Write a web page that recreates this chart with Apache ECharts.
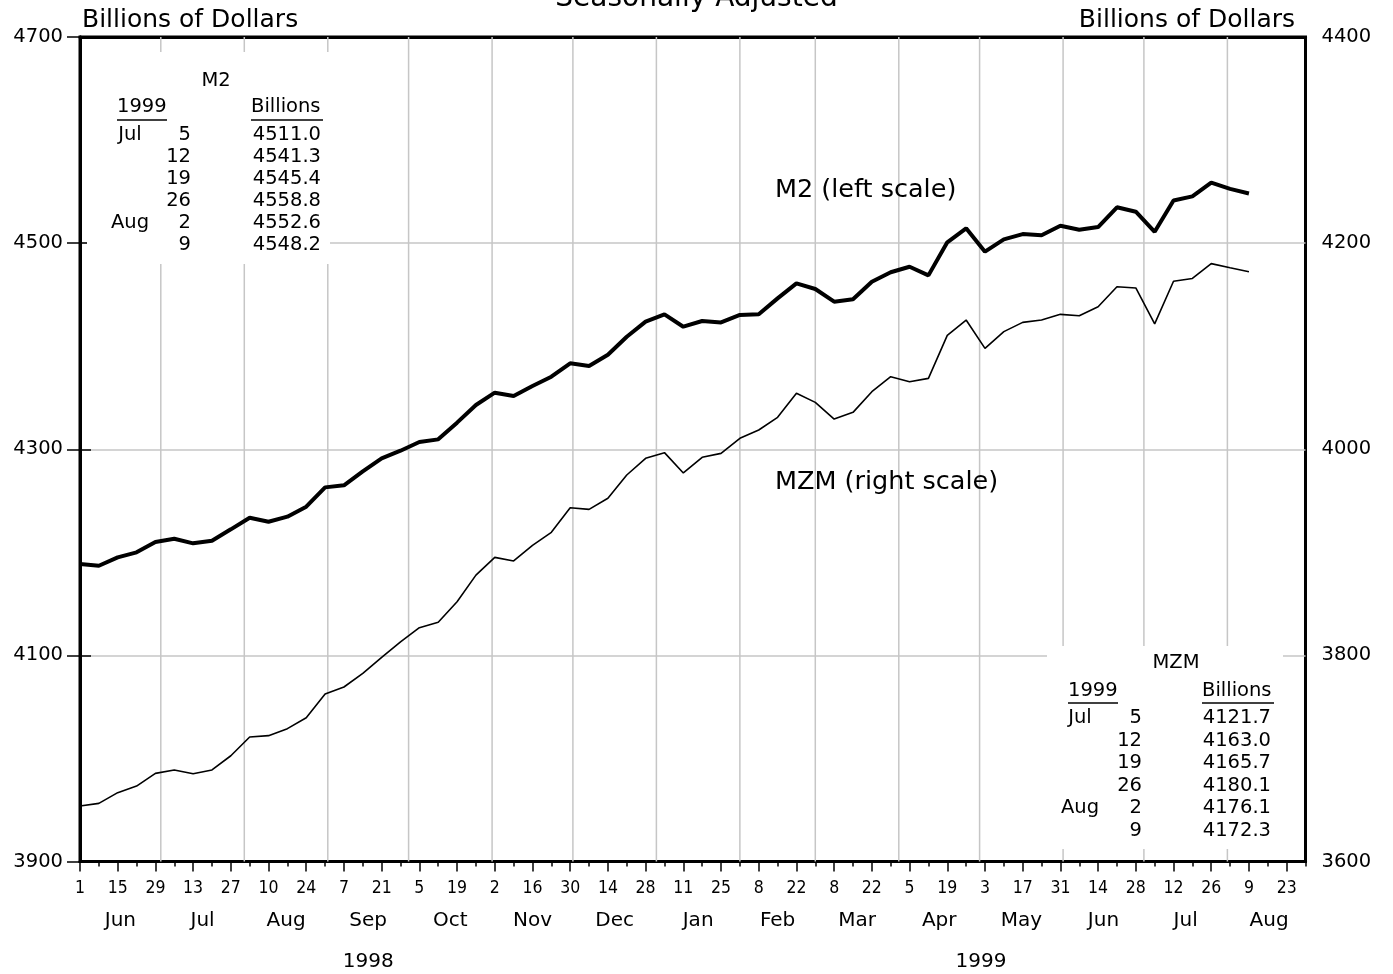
<!DOCTYPE html>
<html><head><meta charset="utf-8">
<script src="https://cdn.jsdelivr.net/npm/echarts@6/dist/echarts.min.js"></script>
<style>html,body{margin:0;padding:0;background:#fff;}#c{width:1393px;height:974px;}</style>
</head><body><div id="c"></div>
<script>
// ---- data ----
const weekCount = 66; // weekly categories, Jun 1 1998 .. Aug 30 1999
const weekCategories = Array.from({length: weekCount}, (_, i) => {
  const d = new Date(1998, 5, 1 + 7 * i);
  return d.getFullYear() + '-' + (d.getMonth() + 1) + '-' + d.getDate();
});
const dayTickLabels = ['1','15','29','13','27','10','24','7','21','5','19','2','16','30','14','28','11','25','8','22','8','22','5','19','3','17','31','14','28','12','26','9','23'];
const m2Values = [4188.6,4187.0,4195.1,4200.0,4210.0,4213.2,4208.7,4211.3,4222.3,4233.6,
  4229.7,4234.6,4244.3,4263.0,4265.0,4278.5,4291.2,4298.6,4307.0,4309.6,
  4325.8,4342.9,4354.9,4351.7,4361.4,4370.4,4383.4,4380.8,4391.7,4409.2,
  4423.8,4430.9,4418.9,4424.4,4423.1,4430.3,4430.9,4446.4,4461.0,4455.5,
  4443.2,4445.5,4462.6,4471.7,4477.1,4468.7,4500.8,4514.4,4491.7,4503.7,
  4508.8,4507.6,4516.9,4513.0,4515.6,4534.8,4530.5,4511.0,4541.3,4545.4,
  4558.8,4552.6,4548.2];
const mzmValues = [3653.8,3656.4,3666.8,3673.2,3685.5,3688.8,3685.2,3688.8,3702.6,3720.8,
  3722.1,3728.9,3739.5,3762.5,3769.3,3782.5,3798.1,3813.0,3826.9,3832.1,
  3852.1,3877.9,3895.1,3891.6,3906.8,3919.4,3943.3,3941.7,3952.4,3975.0,
  3991.2,3996.7,3977.0,3992.2,3996.0,4010.6,4018.7,4031.0,4054.3,4045.5,
  4029.3,4035.8,4055.8,4070.4,4065.5,4068.8,4110.5,4125.4,4097.9,4114.1,
  4123.1,4125.4,4130.9,4129.6,4138.3,4157.7,4156.5,4121.7,4163.0,4165.7,
  4180.1,4176.1,4172.3];
const monthNames = ['Jun','Jul','Aug','Sep','Oct','Nov','Dec','Jan','Feb','Mar','Apr','May','Jun','Jul','Aug'];
const monthStartDays = [0,30,61,92,122,153,183,214,245,273,304,334,365,395,426,457];
const yearNames = ['1998','1999'];
const yearSpanDays = [[0,214],[214,455]];
const m2Table = [['Jul','5','4511.0'],['','12','4541.3'],['','19','4545.4'],['','26','4558.8'],['Aug','2','4552.6'],['','9','4548.2']];
const mzmTable = [['Jul','5','4121.7'],['','12','4163.0'],['','19','4165.7'],['','26','4180.1'],['Aug','2','4176.1'],['','9','4172.3']];

// ---- derived ----
const spanDays = (weekCount - 1) * 7;
const monthMidDays = monthNames.map((m, i) => (monthStartDays[i] + monthStartDays[i + 1]) / 2);
const monthLabelMap = {}; monthMidDays.forEach((d, i) => monthLabelMap[d] = monthNames[i]);
const yearMidDays = yearSpanDays.map(s => (s[0] + s[1]) / 2);
const yearLabelMap = {}; yearMidDays.forEach((d, i) => yearLabelMap[d] = yearNames[i]);
const gridDays = monthStartDays.filter(d => d > 0 && d < spanDays);

const FONT = '"DejaVu Sans", "Liberation Sans", sans-serif';
const NUMFONT = '"DejaVu Sans Condensed", "Liberation Sans Narrow", "DejaVu Sans", sans-serif';
const GRID_GRAY = '#c6c6c6';

function tableGraphics(rows, cfg) {
  const els = [];
  els.push({type:'rect', shape:{x:cfg.box[0], y:cfg.box[1], width:cfg.box[2], height:cfg.box[3]}, style:{fill:'#fff'}, z:50});
  const t = (x, y, text, align) => ({type:'text', x, y, z:51, style:{text, fill:'#000', font:'19.5px ' + FONT, textAlign:align, textVerticalAlign:'middle'}});
  els.push(t(cfg.titleX, cfg.titleY, cfg.title, 'center'));
  els.push(t(cfg.yearX, cfg.headY, '1999', 'left'));
  els.push(t(cfg.billX, cfg.headY, 'Billions', 'left'));
  els.push({type:'line', z:51, shape:{x1:cfg.yearX, y1:cfg.ulY, x2:cfg.yearX + 50, y2:cfg.ulY}, style:{stroke:'#000', lineWidth:1.5}});
  els.push({type:'line', z:51, shape:{x1:cfg.billX, y1:cfg.ulY, x2:cfg.billX + 72, y2:cfg.ulY}, style:{stroke:'#000', lineWidth:1.5}});
  rows.forEach((r, k) => {
    const y = cfg.rowY + cfg.rowStep * k;
    if (r[0]) els.push(t(cfg.monX, y, r[0], 'center'));
    els.push(t(cfg.dayX, y, r[1], 'right'));
    els.push(t(cfg.valX, y, r[2], 'right'));
  });
  return els;
}

const chart = echarts.init(document.getElementById('c'), null, {renderer:'canvas'});
const option = {
  backgroundColor:'#fff',
  animation:false,
  grid:{left:80, right:87.5, top:37, bottom:112.5, show:true, borderColor:'#000', borderWidth:3, backgroundColor:'transparent'},
  xAxis:[
    {type:'category', data:weekCategories, boundaryGap:false, position:'bottom',
     axisLine:{show:true, lineStyle:{color:'#000', width:3}},
     axisTick:{show:true, interval:1, length:10, lineStyle:{color:'#000', width:1.5}},
     axisLabel:{interval:1, margin:18, color:'#000', fontSize:17.5, fontFamily:NUMFONT,
       formatter:(v, i) => dayTickLabels[i / 2] || ''},
     splitLine:{show:false}},
    {type:'category', data:weekCategories, boundaryGap:false, position:'bottom',
     axisLine:{show:false}, axisTick:{show:true, interval:0, length:5, lineStyle:{color:'#000', width:1.5}},
     axisLabel:{show:false}, splitLine:{show:false}},
    {type:'value', min:0, max:spanDays, position:'bottom',
     axisLine:{show:false}, axisTick:{show:false}, splitLine:{show:false},
     axisLabel:{show:true, customValues:monthMidDays, margin:49, color:'#000', fontSize:20, fontFamily:FONT,
       formatter:v => monthLabelMap[v] || ''}},
    {type:'value', min:0, max:spanDays, position:'bottom',
     axisLine:{show:false}, axisTick:{show:false}, splitLine:{show:false},
     axisLabel:{show:true, customValues:yearMidDays, margin:90, color:'#000', fontSize:20, fontFamily:FONT,
       formatter:v => yearLabelMap[v] || ''}},
    {type:'value', min:0, max:spanDays, position:'top',
     axisLine:{show:true, lineStyle:{color:'#000', width:3}}, axisTick:{show:false}, splitLine:{show:false},
     axisLabel:{show:false}}
  ],
  yAxis:[
    {type:'value', min:3900, max:4700, interval:200, position:'left',
     axisLine:{show:true, lineStyle:{color:'#000', width:3}},
     axisTick:{show:true, length:13, lineStyle:{color:'#000', width:1.5}},
     axisLabel:{margin:17, color:'#000', fontSize:19.5, fontFamily:FONT, formatter:v => String(v)},
     splitLine:{show:true, showMinLine:false, showMaxLine:false, lineStyle:{color:GRID_GRAY, width:1.5}}},
    {type:'value', min:3600, max:4400, interval:200, position:'right',
     axisLine:{show:true, lineStyle:{color:'#000', width:3}},
     axisTick:{show:true, length:11, lineStyle:{color:'#000', width:1.5}},
     axisLabel:{margin:16, color:'#000', fontSize:19.5, fontFamily:FONT, formatter:v => String(v)},
     splitLine:{show:false}}
  ],
  series:[
    {type:'custom', name:'monthGrid', xAxisIndex:2, yAxisIndex:0, silent:true, z:1,
     data:gridDays.map(d => [d, 3900]),
     renderItem:(params, api) => {
       const a = api.coord([api.value(0), 4700]);
       const b = api.coord([api.value(0), 3900]);
       return {type:'line', shape:{x1:a[0], y1:a[1], x2:b[0], y2:b[1]}, style:{stroke:GRID_GRAY, lineWidth:1.5}};
     }},
    {type:'line', name:'M2', xAxisIndex:0, yAxisIndex:0, data:m2Values, showSymbol:false, symbol:'none', z:5,
     lineStyle:{color:'#000', width:4}},
    {type:'line', name:'MZM', xAxisIndex:0, yAxisIndex:1, data:mzmValues, showSymbol:false, symbol:'none', z:5,
     lineStyle:{color:'#000', width:1.6}}
  ],
  graphic:[
    {type:'text', left:'center', top:-15, z:60, style:{text:'Seasonally Adjusted', fill:'#000', font:'28px ' + FONT}},
    {type:'text', x:82, y:20, z:60, style:{text:'Billions of Dollars', fill:'#000', font:'25px ' + FONT, textAlign:'left', textVerticalAlign:'middle'}},
    {type:'text', x:1295, y:20, z:60, style:{text:'Billions of Dollars', fill:'#000', font:'25px ' + FONT, textAlign:'right', textVerticalAlign:'middle'}},
    {type:'text', x:775, y:190, z:60, style:{text:'M2 (left scale)', fill:'#000', font:'25.5px ' + FONT, textAlign:'left', textVerticalAlign:'middle'}},
    {type:'text', x:775, y:482, z:60, style:{text:'MZM (right scale)', fill:'#000', font:'25.5px ' + FONT, textAlign:'left', textVerticalAlign:'middle'}},
    ...tableGraphics(m2Table, {box:[87,52,243,212], title:'M2', titleX:216, titleY:81, yearX:117, billX:251, headY:107, ulY:120,
      rowY:135, rowStep:22, monX:130, dayX:191, valX:321}),
    ...tableGraphics(mzmTable, {box:[1047,646,236,203], title:'MZM', titleX:1176, titleY:663, yearX:1068, billX:1202, headY:691, ulY:703,
      rowY:718, rowStep:22.6, monX:1080, dayX:1142, valX:1271})
  ]
};
chart.setOption(option);
</script>
</body></html>
